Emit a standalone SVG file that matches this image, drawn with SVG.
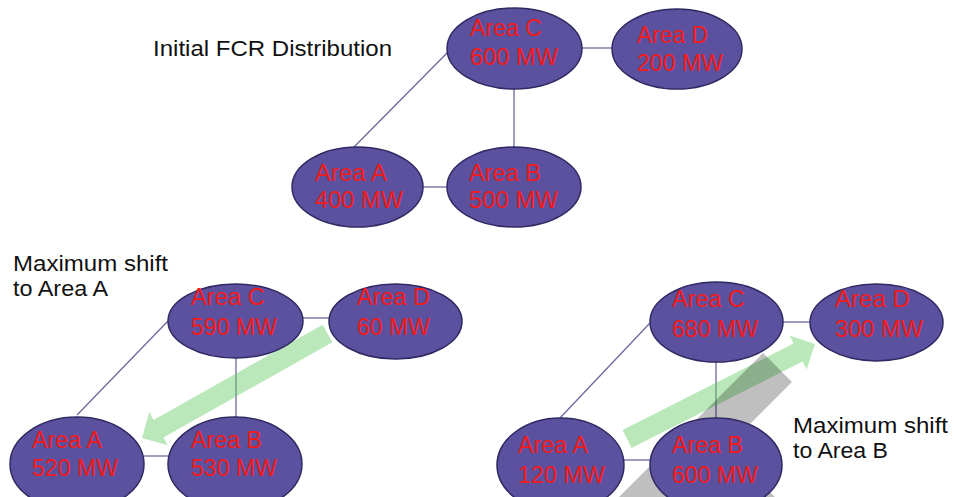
<svg xmlns="http://www.w3.org/2000/svg" width="954" height="497" viewBox="0 0 954 497">
  <style>
    .area { fill: #5c519f; stroke: #2f2a62; stroke-width: 1.5; }
    .val { font-family: "Liberation Sans", Arial, sans-serif; font-size: 23.5px; fill: #f41a1a; }
    .cap { font-family: "Liberation Sans", Arial, sans-serif; font-size: 22px; fill: #111111; }
    .link { stroke: #6c68a0; stroke-width: 1.3; fill: none; }
    .shift { fill: #66cc66; fill-opacity: 0.45; }
    .cross { fill: #000000; fill-opacity: 0.25; }
  </style>
  <rect width="954" height="497" fill="#ffffff"/>

  <!-- captions -->
  <g id="captions">
    <text class="cap" x="153" y="56" font-size="21" textLength="239" lengthAdjust="spacingAndGlyphs">Initial FCR Distribution</text>
    <text class="cap" x="13" y="271" textLength="155" lengthAdjust="spacingAndGlyphs">Maximum shift</text>
    <text class="cap" x="13" y="296" textLength="95" lengthAdjust="spacingAndGlyphs">to Area A</text>
    <text class="cap" x="793" y="433" textLength="155" lengthAdjust="spacingAndGlyphs">Maximum shift</text>
    <text class="cap" x="793" y="458" textLength="95" lengthAdjust="spacingAndGlyphs">to Area B</text>
  </g>

  <!-- connectors between areas -->
  <g id="connectors">
    <!-- initial distribution -->
    <line class="link" x1="582" y1="48" x2="612" y2="48"/>
    <line class="link" x1="514" y1="89" x2="514" y2="147"/>
    <line class="link" x1="423" y1="187" x2="447" y2="187"/>
    <line class="link" x1="354" y1="147" x2="448" y2="52"/>
    <!-- shift to area A -->
    <line class="link" x1="303" y1="318" x2="329" y2="318"/>
    <line class="link" x1="236" y1="358" x2="236" y2="417"/>
    <line class="link" x1="144" y1="456" x2="168" y2="456"/>
    <line class="link" x1="77" y1="415" x2="168" y2="321"/>
    <!-- shift to area B -->
    <line class="link" x1="783" y1="322" x2="810" y2="322"/>
    <line class="link" x1="716" y1="362" x2="716" y2="418"/>
    <line class="link" x1="624" y1="460" x2="650" y2="460"/>
    <line class="link" x1="560" y1="418" x2="650" y2="323"/>
  </g>

  <!-- reserve shift arrows -->
  <g id="shift-arrows">
    <polygon class="shift" points="322.6,324.8 153.6,420 149.2,412.1 142,438 167.9,445.2 163.5,437.4 332.4,342.2"/>
    <polygon class="shift" points="622.5,430.1 793.5,343.6 789.5,335.6 815,344 806.6,369.5 802.6,361.5 631.5,447.9"/>
  </g>

  <!-- crossed-out mark -->
  <path id="cross-mark" class="cross" d="M763,353 L792,382 L614,560 L556,560 Z M711.5,433.5 L838,560 L780,560 L682.5,462.5 Z"/>

  <!-- initial distribution -->
  <g id="init-c">
    <ellipse class="area" cx="514.5" cy="48.5" rx="67.5" ry="40.5"/>
    <text class="val" x="470" y="36" textLength="72" lengthAdjust="spacingAndGlyphs">Area C</text>
    <text class="val" x="470" y="65" textLength="88" lengthAdjust="spacingAndGlyphs">600 MW</text>
  </g>
  <g id="init-d">
    <ellipse class="area" cx="677" cy="49" rx="65" ry="40"/>
    <text class="val" x="637" y="42.5" textLength="71" lengthAdjust="spacingAndGlyphs">Area D</text>
    <text class="val" x="637" y="70.5" textLength="86" lengthAdjust="spacingAndGlyphs">200 MW</text>
  </g>
  <g id="init-a">
    <ellipse class="area" cx="357.5" cy="187" rx="65.5" ry="40"/>
    <text class="val" x="315" y="181" textLength="72" lengthAdjust="spacingAndGlyphs">Area A</text>
    <text class="val" x="315" y="208" textLength="88" lengthAdjust="spacingAndGlyphs">400 MW</text>
  </g>
  <g id="init-b">
    <ellipse class="area" cx="514" cy="187" rx="67" ry="40"/>
    <text class="val" x="469" y="180.5" textLength="72" lengthAdjust="spacingAndGlyphs">Area B</text>
    <text class="val" x="469" y="208" textLength="89" lengthAdjust="spacingAndGlyphs">500 MW</text>
  </g>

  <!-- maximum shift to area A -->
  <g id="shift-a-c">
    <ellipse class="area" cx="235.5" cy="321" rx="67.5" ry="37"/>
    <text class="val" x="191" y="305" textLength="74" lengthAdjust="spacingAndGlyphs">Area C</text>
    <text class="val" x="191" y="335" textLength="86" lengthAdjust="spacingAndGlyphs">590 MW</text>
  </g>
  <g id="shift-a-d">
    <ellipse class="area" cx="395.5" cy="321.5" rx="66.5" ry="37.5"/>
    <text class="val" x="357" y="305" textLength="73" lengthAdjust="spacingAndGlyphs">Area D</text>
    <text class="val" x="357" y="335" textLength="73" lengthAdjust="spacingAndGlyphs">60 MW</text>
  </g>
  <g id="shift-a-a">
    <ellipse class="area" cx="77" cy="464" rx="67" ry="47"/>
    <text class="val" x="32" y="448" textLength="70" lengthAdjust="spacingAndGlyphs">Area A</text>
    <text class="val" x="32" y="476" textLength="86" lengthAdjust="spacingAndGlyphs">520 MW</text>
  </g>
  <g id="shift-a-b">
    <ellipse class="area" cx="235" cy="464" rx="67" ry="47"/>
    <text class="val" x="191" y="448" textLength="71" lengthAdjust="spacingAndGlyphs">Area B</text>
    <text class="val" x="191" y="476" textLength="86" lengthAdjust="spacingAndGlyphs">530 MW</text>
  </g>

  <!-- maximum shift to area B -->
  <g id="shift-b-c">
    <ellipse class="area" cx="716.5" cy="322" rx="66.5" ry="40"/>
    <text class="val" x="672" y="307" textLength="73" lengthAdjust="spacingAndGlyphs">Area C</text>
    <text class="val" x="672" y="337" textLength="86" lengthAdjust="spacingAndGlyphs">680 MW</text>
  </g>
  <g id="shift-b-d">
    <ellipse class="area" cx="876.5" cy="322.5" rx="66.5" ry="38.5"/>
    <text class="val" x="835" y="307" textLength="75" lengthAdjust="spacingAndGlyphs">Area D</text>
    <text class="val" x="835" y="337" textLength="88" lengthAdjust="spacingAndGlyphs">300 MW</text>
  </g>
  <g id="shift-b-a">
    <ellipse class="area" cx="560.5" cy="465" rx="63.5" ry="47"/>
    <text class="val" x="518" y="453" textLength="70" lengthAdjust="spacingAndGlyphs">Area A</text>
    <text class="val" x="518" y="483" textLength="87" lengthAdjust="spacingAndGlyphs">120 MW</text>
  </g>
  <g id="shift-b-b">
    <ellipse class="area" cx="716" cy="465" rx="66" ry="47"/>
    <text class="val" x="672" y="453" textLength="71" lengthAdjust="spacingAndGlyphs">Area B</text>
    <text class="val" x="672" y="483" textLength="86" lengthAdjust="spacingAndGlyphs">600 MW</text>
  </g>
</svg>
